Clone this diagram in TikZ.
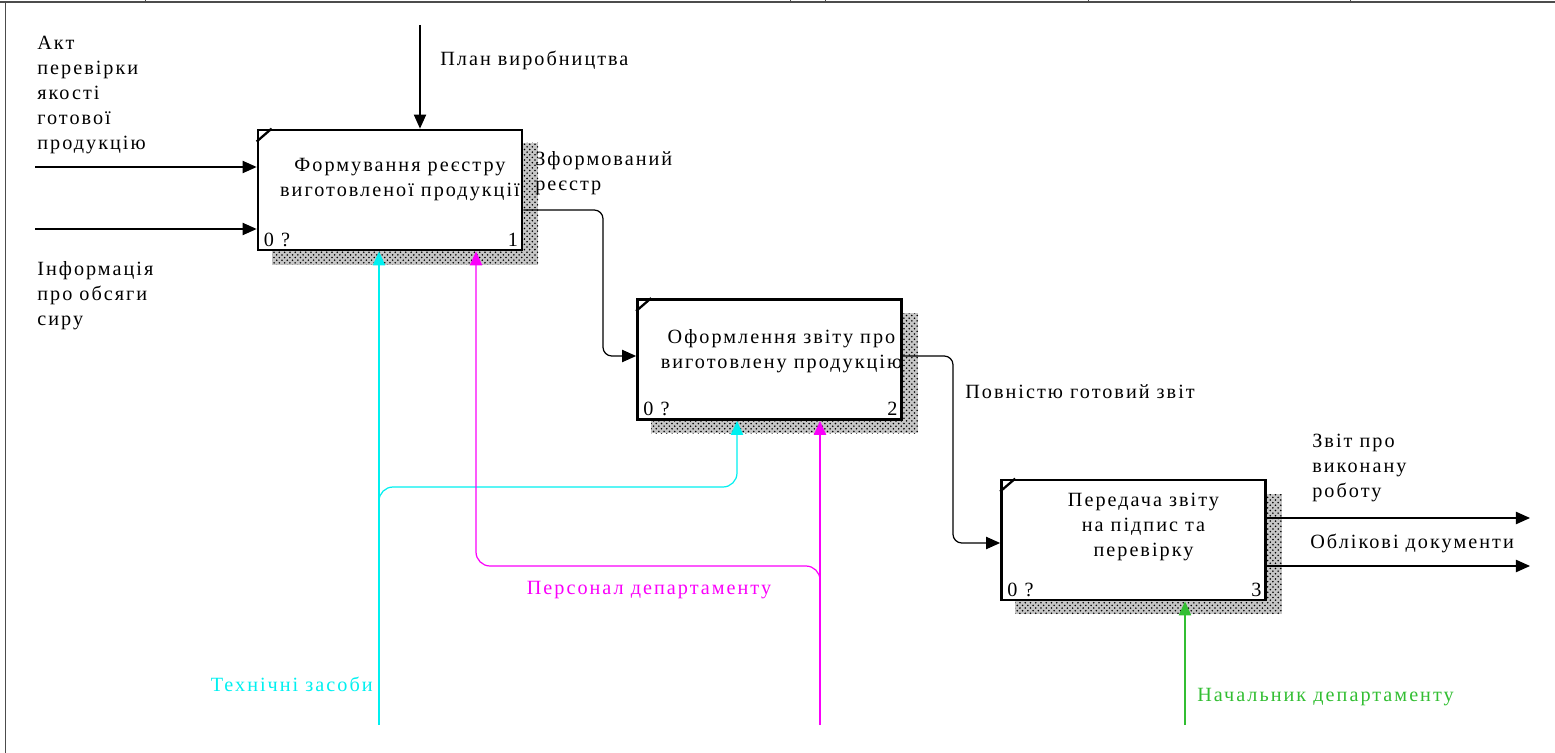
\documentclass[tikz,border=0pt]{standalone}
\usepackage{fontspec}
\setmainfont{Liberation Serif}[LetterSpace=10]
\usepackage{tikz}
\usetikzlibrary{arrows.meta,patterns,positioning}
\definecolor{mechcyan}{RGB}{0,240,240}
\definecolor{mechpink}{RGB}{250,0,250}
\definecolor{mechgreen}{RGB}{50,190,50}

\begin{document}
\begin{tikzpicture}[x=0.02cm, y=-0.02cm, font=\fontsize{11.5}{14.2}\selectfont,
  arr/.style={line width=0.7pt, -{Triangle[length=8pt,width=7pt]}},
  box/.style={draw, line width=1.6pt, fill=white, minimum width=5.28cm, minimum height=2.4cm, inner sep=0pt},
  shadowbox/.style={preaction={fill=gray!45}, pattern=crosshatch dots, pattern color=black},
  lab/.style={anchor=north west, align=left, inner sep=0pt}]
\useasboundingbox (0,0) rectangle (1555,753);
\draw [line width=1.2pt, black!70] (0,2) -- (1555,2);
\foreach \x in {145,790,825,1088,1350} \draw [black!70] (\x,0) -- (\x,3);
\draw [black!70] (5,2) -- (5,753);
\path [shadowbox] (272,143) rectangle (538,265);
\path [shadowbox] (651,313) rectangle (918,433);
\path [shadowbox] (1015,494) rectangle (1282,614);
\node [box] (b1) at (390,190) {};
\node [box] (b2) at (769.5,359.5) {};
\node [box] (b3) at (1133.5,540) {};
\foreach \b in {b1,b2,b3} \draw [line width=1.3pt] ([yshift=-0.26cm]\b.north west) -- ([xshift=0.3cm]\b.north west);
\node [align=center] (t1) at ([shift={(10,-10)}]b1.center) {Формування реєстру\\виготовленої продукції};
\node [align=center] (t2) at ([shift={(12,-8)}]b2.center) {Оформлення звіту про\\виготовлену продукцію};
\node [align=center] (t3) at ([shift={(10,-13)}]b3.center) {Передача звіту\\на підпис та\\перевірку};
\node [anchor=base west, inner sep=0pt] (n1) at ([shift={(7,-5)}]b1.south west) {0 ?};
\node [anchor=base east, inner sep=0pt] (k1) at ([shift={(-5,-5)}]b1.south east) {1};
\node [anchor=base west, inner sep=0pt] (n2) at ([shift={(7,-5)}]b2.south west) {0 ?};
\node [anchor=base east, inner sep=0pt] (k2) at ([shift={(-5,-5)}]b2.south east) {2};
\node [anchor=base west, inner sep=0pt] (n3) at ([shift={(7,-5)}]b3.south west) {0 ?};
\node [anchor=base east, inner sep=0pt] (k3) at ([shift={(-5,-5)}]b3.south east) {3};
\coordinate (plan) at (420,25);
\draw [arr] (plan) -- (plan |- b1.north);
\node [anchor=base west, inner sep=0pt] (lplan) at (440,66) {План виробництва};
\coordinate (akt) at (35,167);
\coordinate (info) at (35,229);
\draw [arr] (akt) -- (akt -| b1.west);
\draw [arr] (info) -- (info -| b1.west);
\node [lab] (lakt) at (37,36) {Акт\\перевірки\\якості\\готової\\продукцію};
\node [lab] (linfo) at (37,261) {Інформація\\про обсяги\\сиру};
\coordinate (o1) at (522,210);
\coordinate (o2) at (902,356);
\draw [arr, rounded corners=5pt] (o1 -| b1.east) -| (603,283) |- (b2.west |- o2);
\node [lab] (lreg) at (535,151) {Зформований\\реєстр};
\draw [arr, rounded corners=5pt] (o2 -| b2.east) -| (953,450) |- (b3.west |- 0,543);
\node [anchor=base west, inner sep=0pt] (lready) at (965,398) {Повністю готовий звіт};
\coordinate (r1) at (1530,518);
\coordinate (r2) at (1530,566);
\draw [arr] (b3.east |- r1) -- (r1);
\draw [arr] (b3.east |- r2) -- (r2);
\node [lab] (lrep) at (1312,434) {Звіт про\\виконану\\роботу};
\node [anchor=base west, inner sep=0pt] (ldocs) at (1310,548) {Облікові документи};
\coordinate (tech) at (379,725);
\coordinate (techb) at (737,487);
\draw [arr, mechcyan] (tech) -- (tech |- b1.south);
\draw [arr, mechcyan, rounded corners=8pt] (379,500) |- (techb) -- (techb |- b2.south);
\node [anchor=base east, inner sep=0pt, mechcyan] (ltech) at (373,691) {Технічні засоби};
\coordinate (pers) at (820,725);
\coordinate (persb) at (476,566);
\draw [arr, mechpink] (pers) -- (pers |- b2.south);
\draw [arr, mechpink, rounded corners=8pt] (820,576) |- (persb) -- (persb |- b1.south);
\node [inner sep=0pt, mechpink] (lpers) at (649,590) {Персонал департаменту};
\coordinate (chief) at (1185,725);
\draw [arr, mechgreen] (chief) -- (chief |- b3.south);
\node [anchor=base west, inner sep=0pt, mechgreen] (lchief) at (1197,701) {Начальник департаменту};
\end{tikzpicture}
\end{document}
